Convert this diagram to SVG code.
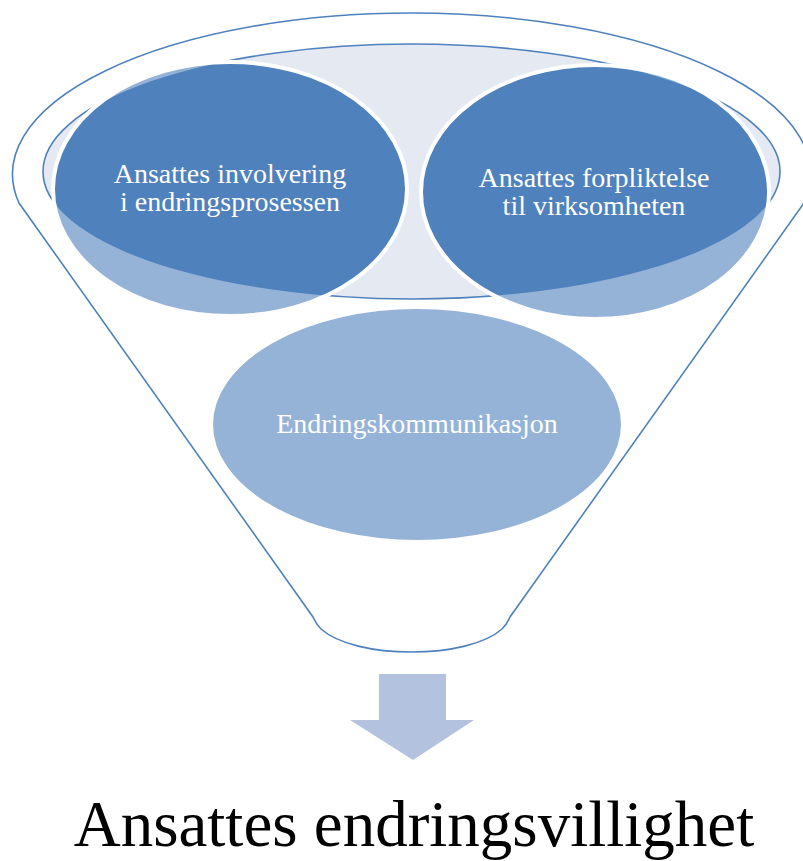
<svg xmlns="http://www.w3.org/2000/svg" width="803" height="861" viewBox="0 0 803 861">
  <style>
    .outline { fill: none; stroke: #4F81BD; stroke-width: 1.6; }
    .dark { fill: #4F81BD; }
    .light { fill: #95B3D7; }
    .rim { fill: none; stroke: #FFFFFF; stroke-width: 4; }
    .label { font-family: "Liberation Serif", "DejaVu Serif", serif; font-size: 28px; fill: #FFFFFF; text-anchor: middle; }
    .title { font-family: "Liberation Serif", "DejaVu Serif", serif; font-size: 65px; fill: #000000; text-anchor: middle; }
  </style>
  <defs>
    <clipPath id="innerClip">
      <ellipse cx="411.5" cy="171.5" rx="368.5" ry="127.5"/>
    </clipPath>
  </defs>
  <rect width="803" height="861" fill="#FFFFFF"/>

  <g id="funnel">
    <path class="outline" d="M 19,203 A 399 161 0 1 1 804,203 L 510,617 Q 507,624 502,629 C 485,644 450,652 411.5,652 C 373,652 338,644 321,629 Q 316,624 313,617 Z"/>
    <ellipse cx="411.5" cy="171.5" rx="368.5" ry="127.5" fill="#E4E9F2" stroke="#4F81BD" stroke-width="1.6"/>
  </g>

  <g id="node-involvering">
    <ellipse class="light" cx="230" cy="189" rx="177" ry="127"/>
    <ellipse class="dark" cx="230" cy="189" rx="177" ry="127" clip-path="url(#innerClip)"/>
    <ellipse class="rim" cx="230" cy="189" rx="177" ry="127"/>
    <text class="label" x="230" y="183">Ansattes involvering</text>
    <text class="label" x="230" y="211">i endringsprosessen</text>
  </g>

  <g id="node-forpliktelse">
    <ellipse class="light" cx="595" cy="192" rx="174" ry="127"/>
    <ellipse class="dark" cx="595" cy="192" rx="174" ry="127" clip-path="url(#innerClip)"/>
    <ellipse class="rim" cx="595" cy="192" rx="174" ry="127"/>
    <text class="label" x="594" y="187">Ansattes forpliktelse</text>
    <text class="label" x="594" y="215">til virksomheten</text>
  </g>

  <g id="node-kommunikasjon">
    <ellipse class="light" cx="417" cy="424.5" rx="206" ry="117.5"/>
    <ellipse class="rim" cx="417" cy="424.5" rx="206" ry="117.5"/>
    <text class="label" x="417" y="433">Endringskommunikasjon</text>
  </g>

  <g id="connectors">
    <path d="M 379,674 L 446,674 L 446,720 L 474,720 L 413,760 L 350,720 L 379,720 Z" fill="#B3C2DE"/>
  </g>

  <g id="node-result">
    <text class="title" x="414" y="846">Ansattes endringsvillighet</text>
  </g>
</svg>
